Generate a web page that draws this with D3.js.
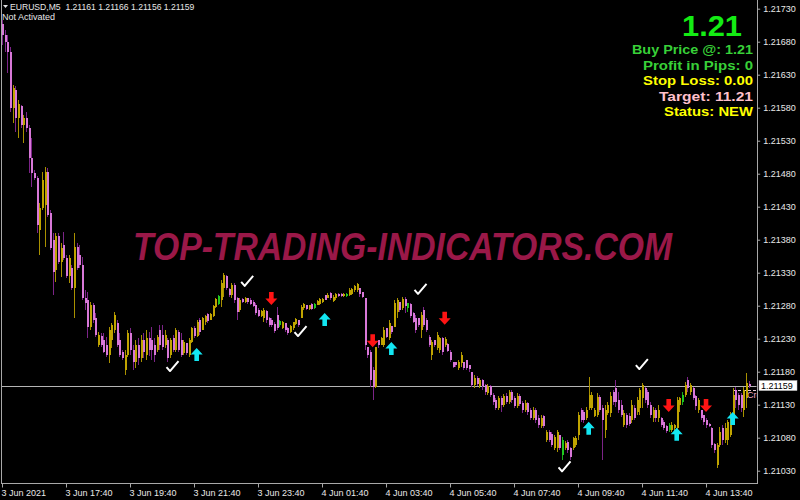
<!DOCTYPE html>
<html><head><meta charset="utf-8">
<script src="https://cdn.jsdelivr.net/npm/d3@7"></script>
<style>
html,body{margin:0;padding:0;background:#000;}
svg{display:block;}
</style></head><body>
<svg id="chart" width="800" height="500"></svg>
<script>
// Prices are stored in points above the base: price = 1.21 + pts * 0.00001
const PRICE_BASE = 1.21, POINT = 0.00001;

const openPts = [
707,690,679,664,579,607,564,582,554,564,
549,504,481,473,395,428,432,482,420,379,
334,385,346,372,352,325,337,307,369,357,
342,292,288,248,281,261,220,234,228,220,
205,228,243,254,228,210,182,205,238,213,
195,220,201,228,205,231,228,220,213,243,
235,220,228,205,231,213,240,228,208,223,
205,225,246,234,258,243,255,267,258,264,
278,282,288,307,325,305,296,311,292,273,
290,285,292,288,285,281,273,264,261,272,
261,258,252,266,251,246,254,246,240,246,
252,258,261,276,281,275,282,276,281,282,
285,296,292,299,287,292,298,298,295,295,
296,298,304,304,307,301,292,217,210,182,
157,228,220,220,246,231,249,248,270,285,
276,290,276,282,269,261,261,243,273,258,
232,205,228,216,213,231,220,222,210,195,
195,186,193,195,198,190,179,160,170,158,
167,160,148,158,145,137,125,140,129,143,
134,149,140,128,143,132,122,132,122,110,
122,110,98,113,76,89,86,64,64,84,
54,64,73,64,64,69,84,122,119,110,
125,125,113,114,142,125,92,117,117,149,
155,137,129,99,114,113,107,125,119,125,
140,155,149,129,110,122,110,110,104,98,
92,92,95,95,129,134,145,167,149,155,
143,122,122,114,107,101,95,70,39,69,
95,76,76,84,110,152,145,145,122,140,
161];
const highPts = [
713,698,690,672,614,613,592,584,569,573,
554,534,485,476,435,482,490,488,425,390,
390,390,375,391,357,357,342,390,375,372,
354,304,301,285,284,269,240,238,238,232,
248,254,270,258,238,213,213,243,246,220,
228,231,235,238,243,240,248,231,235,251,
251,243,231,231,235,246,243,238,228,223,
231,248,249,258,261,263,266,269,269,281,
292,296,319,329,326,307,314,314,293,292,
292,293,292,292,288,284,276,273,276,273,
263,261,255,278,258,257,254,248,251,255,
261,258,281,284,281,281,284,284,288,292,
292,296,299,301,296,299,299,299,299,299,
307,307,311,314,307,301,292,217,213,187,
217,228,232,248,246,258,249,288,292,285,
293,293,284,284,270,266,261,270,278,261,
235,228,228,240,232,232,232,223,213,195,
195,198,210,195,198,190,179,175,173,170,
169,161,161,160,148,140,143,143,146,148,
152,152,143,148,146,136,137,134,125,126,
125,114,114,114,92,92,89,84,92,84,
81,75,76,66,81,82,119,125,122,126,
172,149,125,148,145,129,129,134,149,152,
167,149,137,122,117,117,137,129,142,155,
163,157,152,134,126,125,129,111,107,99,
102,104,101,142,142,149,164,172,163,157,
145,140,122,114,110,102,96,72,72,96,
99,102,107,119,155,157,148,148,157,178,
166];
const lowPts = [
675,664,632,573,557,543,534,549,526,543,
481,460,470,390,357,425,369,414,364,296,
316,343,323,349,322,314,304,261,334,337,
288,273,231,243,254,232,217,217,208,202,
193,216,238,217,202,198,175,202,205,182,
186,190,195,201,198,204,198,195,210,213,
213,216,195,201,210,210,210,202,205,205,
202,223,231,232,235,243,251,254,258,263,
276,281,278,293,304,293,292,284,258,270,
284,284,282,281,278,266,263,263,255,254,
248,248,238,243,248,245,240,235,238,243,
251,248,261,273,273,273,273,275,281,281,
284,288,292,288,285,288,293,293,293,293,
295,296,301,301,293,292,213,201,157,137,
155,216,220,217,231,228,237,248,261,270,
273,269,270,261,254,238,248,231,248,240,
217,198,217,213,208,205,217,210,195,186,
187,182,187,182,182,179,157,155,158,155,
152,145,145,142,129,122,122,119,126,131,
131,132,125,125,128,117,119,114,107,107,
102,95,95,95,73,73,66,61,58,61,
46,61,57,46,61,66,76,104,102,107,
122,122,111,111,119,46,79,114,111,129,
126,117,111,96,95,98,102,107,114,114,
125,132,125,110,104,104,104,96,92,87,
89,89,89,92,119,129,142,149,145,137,
122,117,107,99,95,96,64,57,34,66,
69,72,69,81,102,125,122,119,111,125,
156];
const closePts = [
690,679,664,579,610,564,585,554,564,549,
504,481,473,402,428,470,482,417,367,331,
385,346,367,352,325,352,307,369,337,342,
292,284,248,281,258,235,235,220,210,205,
243,251,266,220,205,201,205,238,213,195,
220,201,228,210,231,213,213,205,232,220,
217,235,201,228,213,243,213,205,225,208,
228,246,234,255,240,261,264,257,267,279,
290,295,314,326,307,296,311,288,270,288,
285,292,285,282,279,269,264,272,273,258,
251,251,242,246,257,255,243,238,249,255,
260,251,278,282,275,281,275,282,287,290,
290,288,296,292,293,298,295,295,298,298,
304,305,310,313,298,293,220,205,167,157,
217,220,231,243,232,254,240,284,288,273,
290,279,284,264,255,243,251,266,251,243,
220,225,220,235,231,210,229,211,198,187,
190,195,205,186,186,184,160,170,161,167,
158,149,158,145,134,125,140,129,143,134,
149,137,128,143,131,122,132,119,110,122,
107,99,110,98,89,76,69,81,89,64,
76,72,61,51,79,79,114,107,107,122,
145,145,122,142,122,107,122,129,143,134,
134,122,114,117,99,101,129,110,137,152,
160,137,129,114,122,110,122,99,95,90,
99,99,99,137,140,145,160,155,160,140,
128,137,110,104,99,98,69,61,69,89,
76,95,104,114,145,137,129,125,152,163,
159];
// bars painted green by the indicator
const greenBars = [81,104,117,129,152,210,250,255];

// indicator signals (bar index, price in points)
const buyBars = [73,121,146,220,253,274];
const buyPts  = [216,269,225,104,95,119];
const sellBars = [101,139,166,250,264];
const sellPts  = [281,217,251,119,119];
const checkBars = [63,91,111,156,210,239];
const checkPts  = [181,310,234,298,29,184];

const priceTicks = [1.21730,1.21680,1.21630,1.21580,1.21530,1.21480,1.21430,1.21380,1.21330,1.21280,1.21230,1.21180,1.21130,1.21080,1.21030];
const timeLabels = ["3 Jun 2021","3 Jun 17:40","3 Jun 19:40","3 Jun 21:40","3 Jun 23:40","4 Jun 01:40","4 Jun 03:40","4 Jun 05:40","4 Jun 07:40","4 Jun 09:40","4 Jun 11:40","4 Jun 13:40"];
const timeLabelBars = [0,24,48,72,96,120,144,168,192,216,240,264];

const headerText = "EURUSD,M5  1.21161 1.21166 1.21156 1.21159";
const statusText = "Not Activated";
const lastPrice = 1.21159;
const watermark = "TOP-TRADING-INDICATORS.COM";
const panelBig = "1.21";
const panelLines = ["Buy Price @: 1.21","Profit in Pips: 0","Stop Loss: 0.00","Target: 11.21","Status: NEW"];

const toPrice = p => PRICE_BASE + p * POINT;
const bars = openPts.map((o,i)=>({i, o:toPrice(o), h:toPrice(highPts[i]), l:toPrice(lowPts[i]), c:toPrice(closePts[i])}));

const svg = d3.select("#chart");
svg.append("rect").attr("width",800).attr("height",500).attr("fill","#000");

const L = 2, R = 756.7, B = 483;
const x = d3.scaleLinear().domain([0,283]).range([L,R]);
const y = d3.scaleLinear().domain([1.21030,1.21730]).range([470.7,8.7]);
const FONT = "Liberation Sans, Arial, sans-serif";

svg.append("defs").append("clipPath").attr("id","plotclip")
  .append("rect").attr("x",L).attr("y",0).attr("width",R-L).attr("height",B);

const plot = svg.append("g").attr("clip-path","url(#plotclip)");

// watermark
plot.append("text").attr("x",133).attr("y",260)
  .attr("font-family",FONT).attr("font-weight","bold").attr("font-style","italic")
  .attr("font-size",38).attr("textLength",539).attr("lengthAdjust","spacingAndGlyphs")
  .attr("fill","#9a1848").text(watermark);

// bid line
const bidY = Math.round(y(lastPrice))+0.5;
plot.append("line").attr("x1",L).attr("x2",R).attr("y1",bidY).attr("y2",bidY)
  .attr("stroke","#b4b4b4").attr("stroke-width",1);

// dashed trade line + clipped label
plot.append("line").attr("x1",733).attr("x2",R).attr("y1",390.5).attr("y2",390.5)
  .attr("stroke","#e8c8d8").attr("stroke-dasharray","3,2");
plot.append("text").attr("x",747).attr("y",398).attr("font-family",FONT)
  .attr("font-size",9).attr("fill","#f0a8c0").text("Created");

const colorOf = d => greenBars.includes(d.i) ? "green" : (d.c >= d.o ? "gold" : "violet");
const wickCol = {gold:"#a89000", violet:"#7c2488", green:"#18b018"};
const bodyCol = {gold:"#c0a400", violet:"#d878d8", green:"#20c820"};

const cg = plot.append("g").attr("shape-rendering","crispEdges");
cg.selectAll(".wick").data(bars).enter().append("rect")
  .attr("x",d=>Math.round(x(d.i)))
  .attr("y",d=>Math.round(y(d.h)))
  .attr("width",1)
  .attr("height",d=>Math.max(1,Math.round(y(d.l))-Math.round(y(d.h))))
  .attr("fill",d=>wickCol[colorOf(d)]);
cg.selectAll(".body").data(bars).enter().append("rect")
  .attr("x",d=>Math.round(x(d.i))-0.5)
  .attr("y",d=>Math.round(y(Math.max(d.o,d.c))))
  .attr("width",2)
  .attr("height",d=>Math.max(1,Math.round(y(Math.min(d.o,d.c)))-Math.round(y(Math.max(d.o,d.c)))))
  .attr("fill",d=>bodyCol[colorOf(d)]);

// buy arrows (tip at given price)
const upPath = "M0,0 L6,6.5 L2.3,6.5 L2.3,13 L-2.3,13 L-2.3,6.5 L-6,6.5 Z";
plot.selectAll(".buy").data(buyBars).enter().append("path")
  .attr("d",upPath)
  .attr("transform",(b,k)=>`translate(${x(b)},${y(toPrice(buyPts[k]))})`)
  .attr("fill","#12e6f2");
const downPath = "M0,0 L6,-6.5 L2.3,-6.5 L2.3,-13 L-2.3,-13 L-2.3,-6.5 L-6,-6.5 Z";
plot.selectAll(".sell").data(sellBars).enter().append("path")
  .attr("d",downPath)
  .attr("transform",(b,k)=>`translate(${x(b)},${y(toPrice(sellPts[k]))})`)
  .attr("fill","#ff1414");
plot.selectAll(".chk").data(checkBars).enter().append("path")
  .attr("d","M-3.5,-4 L0,0 L8.5,-10")
  .attr("transform",(b,k)=>`translate(${x(b)},${y(toPrice(checkPts[k]))})`)
  .attr("fill","none").attr("stroke","#ffffff").attr("stroke-width",2).attr("stroke-linejoin","round");

// frame
svg.append("path").attr("d",`M${L-0.5},0 V${B+0.5} H${R+0.5} V0`)
  .attr("fill","none").attr("stroke","#a8a8a8").attr("stroke-width",1).attr("shape-rendering","crispEdges");

// right price axis
const ya = svg.append("g").attr("transform",`translate(${R+0.5},0)`)
  .call(d3.axisRight(y).tickValues(priceTicks).tickFormat(d3.format(".5f")).tickSize(3).tickPadding(3));
ya.select(".domain").remove();
ya.selectAll("line").attr("stroke","#a8a8a8");
ya.selectAll("text").attr("fill","#e8e8e8").attr("font-size",9).attr("font-family",FONT);

// bottom time axis
const xa = svg.append("g").attr("transform",`translate(0,${B+0.5})`)
  .call(d3.axisBottom(x).tickValues(timeLabelBars).tickFormat((d,k)=>timeLabels[k]).tickSize(4).tickPadding(2));
xa.select(".domain").remove();
xa.selectAll("line").attr("stroke","#a8a8a8");
xa.selectAll("text").attr("fill","#e8e8e8").attr("font-size",9).attr("font-family",FONT)
  .attr("text-anchor","start").attr("dx",-1);

// last price box
const ly = y(lastPrice);
svg.append("rect").attr("x",759).attr("y",ly-5).attr("width",38).attr("height",10)
  .attr("fill","#ffffff").attr("stroke","#c0c0c0").attr("stroke-width",0.5);
svg.append("text").attr("x",761).attr("y",ly+3.3).attr("font-size",9)
  .attr("font-family",FONT).attr("fill","#000").text(d3.format(".5f")(lastPrice));

// header
svg.append("path").attr("d","M3,5 L8,5 L5.5,8 Z").attr("fill","#e0e0e0");
svg.append("text").attr("x",10).attr("y",10).attr("font-size",8.6)
  .attr("font-family",FONT).attr("fill","#e8e8e8")
  .style("white-space","pre").text(headerText);
svg.append("text").attr("x",2).attr("y",20).attr("font-size",9)
  .attr("font-family",FONT).attr("fill","#e8e8e8").text(statusText);

// info panel
svg.append("text").attr("x",742).attr("y",36).attr("text-anchor","end")
  .attr("font-family",FONT).attr("font-weight","bold").attr("font-size",29)
  .attr("textLength",60).attr("lengthAdjust","spacingAndGlyphs")
  .attr("fill","#14ec14").text(panelBig);
const panelColors = ["#38d038","#38d038","#ffff00","#ffc0cb","#ffff00"];
const panelY = [54,69.5,85,100.5,116];
const panelW = [121,110,110,94,89];
svg.selectAll(".pl").data(panelLines).enter().append("text")
  .attr("x",753).attr("y",(d,k)=>panelY[k]).attr("text-anchor","end")
  .attr("font-family",FONT).attr("font-weight","bold").attr("font-size",13)
  .attr("textLength",(d,k)=>panelW[k]).attr("lengthAdjust","spacingAndGlyphs")
  .attr("fill",(d,k)=>panelColors[k]).text(d=>d);
</script>
</body></html>
